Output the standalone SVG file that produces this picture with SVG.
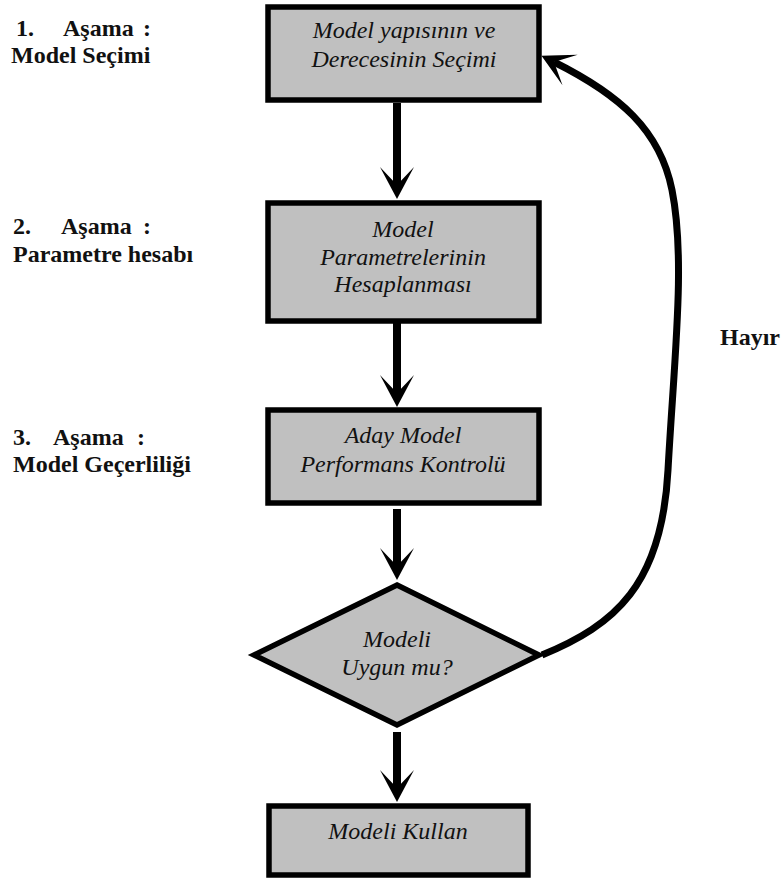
<svg xmlns="http://www.w3.org/2000/svg" width="783" height="885" viewBox="0 0 783 885">
<style>
.box{fill:#c0c0c0;stroke:#000;stroke-width:5.5}
.t{font-family:'Liberation Serif','Times New Roman',serif;font-style:italic;font-size:24px;fill:#111;text-anchor:middle}
.lb{font-family:'Liberation Serif','Times New Roman',serif;font-weight:bold;font-size:24px;fill:#111}
.ln{fill:none;stroke:#000;stroke-width:8}
.cv{fill:none;stroke:#000;stroke-width:7}
</style>
<defs>
<marker id="ah" markerUnits="userSpaceOnUse" orient="auto" markerWidth="60" markerHeight="60" refX="30" refY="30" viewBox="0 0 60 60" overflow="visible">
<path d="M44,30 L12,13 L30,30 L12,47 Z" fill="#000"/>
</marker>
</defs>
<rect width="783" height="885" fill="#fff"/>
<g id="labels">
<text class="lb" y="36"><tspan x="16">1.</tspan><tspan x="63">Aşama</tspan><tspan x="143">:</tspan></text>
<text class="lb" x="11" y="63">Model Seçimi</text>
<text class="lb" y="234"><tspan x="13">2.</tspan><tspan x="61">Aşama</tspan><tspan x="143">:</tspan></text>
<text class="lb" x="13" y="262">Parametre hesabı</text>
<text class="lb" y="445"><tspan x="13">3.</tspan><tspan x="53">Aşama</tspan><tspan x="137">:</tspan></text>
<text class="lb" x="13" y="472">Model Geçerliliği</text>
<text class="lb" x="720" y="345">Hayır</text>
</g>
<g id="connectors">
<line class="ln" x1="397" y1="103" x2="397" y2="185" marker-end="url(#ah)"/>
<line class="ln" x1="397" y1="313" x2="397" y2="393" marker-end="url(#ah)"/>
<line class="ln" x1="397" y1="509" x2="397" y2="566" marker-end="url(#ah)"/>
<line class="ln" x1="397" y1="732" x2="397" y2="788" marker-end="url(#ah)"/>
<path class="cv" d="M 542 655 C 615 625, 662 585, 668 470 C 674 360, 686 260, 672 190 C 660 130, 620 95, 554 62" marker-end="url(#ah)"/>
</g>
<g id="n1">
<rect class="box" x="268" y="7" width="271" height="93"/>
<text class="t" x="404" y="38">Model yapısının ve</text>
<text class="t" x="404" y="67">Derecesinin Seçimi</text>
</g>
<g id="n2">
<rect class="box" x="268" y="203" width="271" height="118"/>
<text class="t" x="403" y="237">Model</text>
<text class="t" x="403" y="265">Parametrelerinin</text>
<text class="t" x="403" y="292">Hesaplanması</text>
</g>
<g id="n3">
<rect class="box" x="268" y="410" width="271" height="93"/>
<text class="t" x="403" y="443">Aday Model</text>
<text class="t" x="403" y="472">Performans Kontrolü</text>
</g>
<g id="n4">
<polygon class="box" points="397,585 539,655 397,725 254,655"/>
<text class="t" x="397" y="647">Modeli</text>
<text class="t" x="397" y="675">Uygun mu?</text>
</g>
<g id="n5">
<rect class="box" x="269" y="806" width="259" height="69"/>
<text class="t" x="398" y="839">Modeli Kullan</text>
</g>
</svg>
